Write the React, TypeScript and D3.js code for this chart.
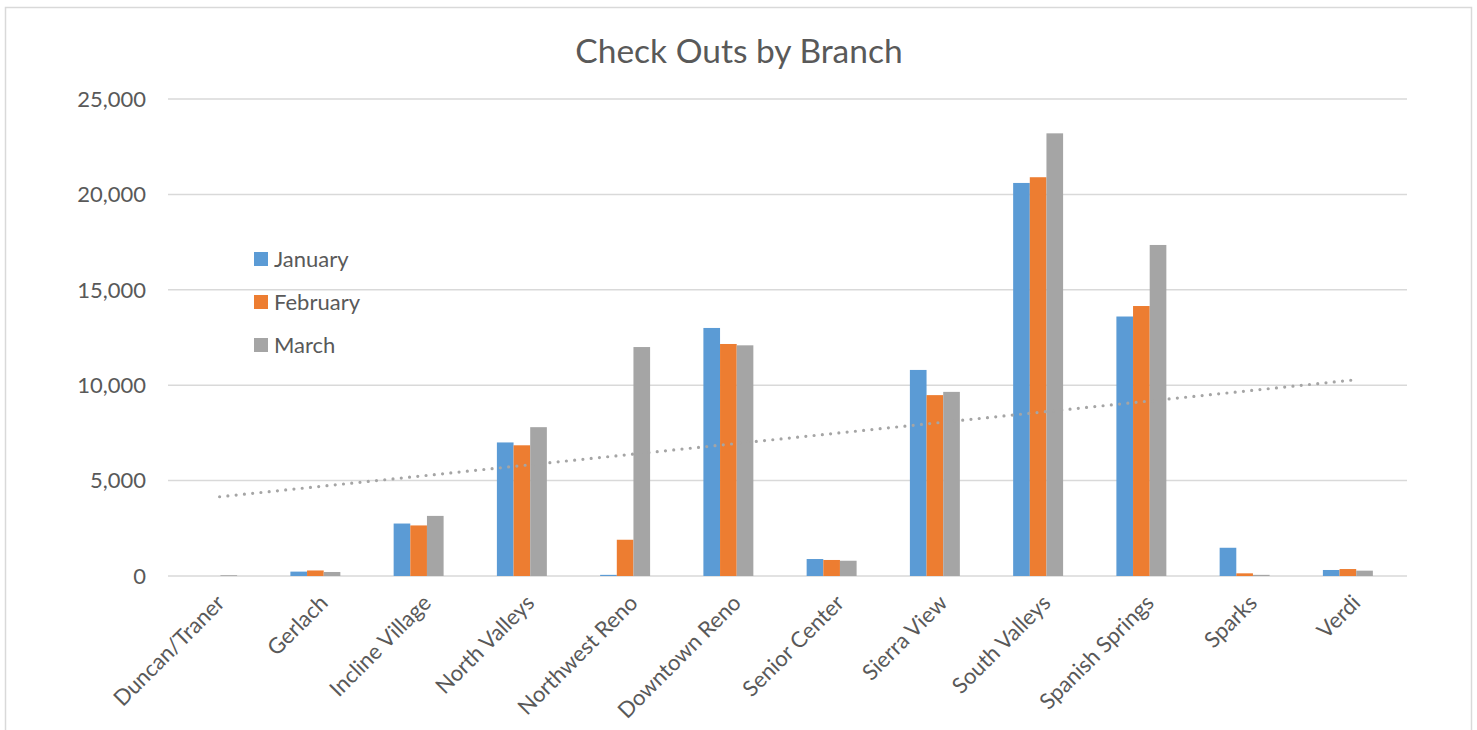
import React from "react";
import * as d3 from "d3";

const branches = [
  "Duncan/Traner", "Gerlach", "Incline Village", "North Valleys", "Northwest Reno", "Downtown Reno",
  "Senior Center", "Sierra View", "South Valleys", "Spanish Springs", "Sparks", "Verdi",
];
const january = [0, 230, 2750, 7000, 60, 13000, 890, 10800, 20600, 13600, 1480, 315];
const february = [0, 290, 2650, 6850, 1900, 12160, 840, 9480, 20900, 14150, 140, 365];
const march = [40, 210, 3150, 7800, 12000, 12090, 800, 9650, 23200, 17350, 60, 280];
const seriesNames = ["January", "February", "March"];
const seriesColors = ["#5B9BD5", "#ED7D31", "#A5A5A5"];
const yTicks = [0, 5000, 10000, 15000, 20000, 25000];

const W = 1477;
const H = 730;
const margin = { top: 99, right: 70, bottom: 154, left: 168 };
const font = "Lato, 'Open Sans', sans-serif";
const textColor = "#595959";

export default function App() {
  const series = [january, february, march];
  const x = d3.scaleBand<string>().domain(branches).range([margin.left, W - margin.right]);
  const y = d3.scaleLinear().domain([0, 25000]).range([H - margin.bottom, margin.top]);
  const fmt = d3.format(",");

  // excel style grouping: 3 bars, gap ~ 106%, group sits a bit left of the band centre
  const barW = x.bandwidth() / (3 + 3.2);
  const groupOffset = (x.bandwidth() - 3 * barW) / 2 - 7.5;

  // linear trendline of March
  const xs = march.map((_, i) => i + 1);
  const mx = d3.mean(xs) as number;
  const my = d3.mean(march) as number;
  const slope =
    d3.sum(xs, (v, i) => (v - mx) * (march[i] - my)) / d3.sum(xs, (v) => (v - mx) ** 2);
  const icpt = my - slope * mx;
  const trend = d3
    .line<number>()
    .x((v) => (x(branches[v - 1]) as number) + x.bandwidth() / 2)
    .y((v) => y(icpt + slope * v));

  return (
    <div style={{ position: "absolute", left: 0, top: 0 }}>
      <svg width={W} height={H} style={{ display: "block", background: "#fff" }}>
        <rect x={5.5} y={7.5} width={1466} height={740} fill="#fff" stroke="#D9D9D9" strokeWidth={1.5} />
        <text x={739} y={63} textAnchor="middle" fontFamily={font} fontSize={33.5} fill={textColor}>
          Check Outs by Branch
        </text>
        {yTicks.map((t) => (
          <g key={t}>
            <line
              x1={margin.left}
              x2={W - margin.right}
              y1={y(t)}
              y2={y(t)}
              stroke="#D9D9D9"
              strokeWidth={1.5}
            />
            <text
              x={146}
              y={y(t)}
              dy="0.35em"
              textAnchor="end"
              fontFamily={font}
              fontSize={22}
              fill={textColor}
            >
              {fmt(t)}
            </text>
          </g>
        ))}
        {series.map((vals, s) => (
          <g key={s}>
            {vals.map((v, i) => (
              <rect
                key={i}
                x={(x(branches[i]) as number) + groupOffset + s * barW}
                y={y(v)}
                width={barW}
                height={y(0) - y(v)}
                fill={seriesColors[s]}
              />
            ))}
          </g>
        ))}
        <path
          d={trend(xs) as string}
          fill="none"
          stroke="#A5A5A5"
          strokeWidth={3.2}
          strokeLinecap="round"
          strokeDasharray="0 8.3"
        />
        {branches.map((b) => {
          const cx = (x(b) as number) + x.bandwidth() / 2;
          return (
            <text
              key={b}
              transform={`translate(${cx - 3},${y(0) + 19}) rotate(-45)`}
              textAnchor="end"
              dy="0.6em"
              fontFamily={font}
              fontSize={22}
              fill={textColor}
            >
              {b}
            </text>
          );
        })}
        {seriesNames.map((n, i) => (
          <g key={n} transform={`translate(254,${259 + i * 43})`}>
            <rect x={0} y={-7} width={14} height={14} fill={seriesColors[i]} />
            <text x={20} y={0} dy="0.35em" fontFamily={font} fontSize={22} fill={textColor}>
              {n}
            </text>
          </g>
        ))}
      </svg>
    </div>
  );
}
